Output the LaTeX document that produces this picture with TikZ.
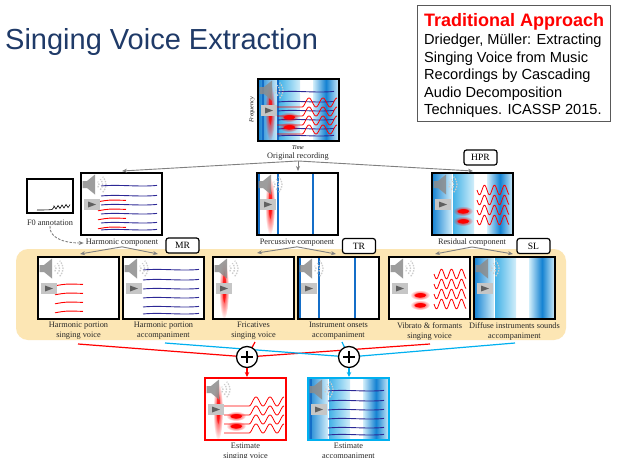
\documentclass[tikz,border=0pt]{standalone}
\usepackage{fontspec}
\setmainfont{Liberation Serif}
\newfontfamily\sansf{Liberation Sans}
\usetikzlibrary{arrows.meta,fadings}

\definecolor{titleblue}{RGB}{31,58,104}
\definecolor{bandDark}{RGB}{20,130,210}
\definecolor{bandMid}{RGB}{60,175,230}
\definecolor{bandLight}{RGB}{210,238,250}
\definecolor{navyline}{RGB}{45,40,150}
\definecolor{onsetblue}{RGB}{20,110,200}
\definecolor{accblue}{RGB}{0,176,240}
\definecolor{panelbg}{RGB}{252,230,180}
\definecolor{connector}{RGB}{128,128,128}
\definecolor{labeltext}{RGB}{40,40,40}
\definecolor{spkgray}{RGB}{140,140,140}

\tikzfading[name=blobfade, inner color=transparent!0, outer color=transparent!100]

\tikzset{
  panelframe/.style={draw=black, line width=1.3pt},
  lab/.style={font=\fontsize{8.3}{10}\selectfont, text=labeltext, align=center, inner sep=0pt},
  tagbox/.style={draw=black, line width=1.2pt, rounded corners=2.5pt, fill=white,
    minimum width=33pt, minimum height=15pt, inner sep=0pt, font=\fontsize{9.6}{11}\selectfont},
  conn/.style={draw=connector, line width=0.9pt, -{Stealth[length=5pt,width=4pt]}},
  sumnode/.style={circle, draw=black, line width=1.3pt, fill=white, minimum size=21pt, inner sep=0pt},
  voiceline/.style={draw=red, line width=1.2pt},
  accline/.style={draw=accblue, line width=1.2pt},
  reftext/.style={anchor=base west, inner sep=0pt, font=\sansf\fontsize{14.6}{17}\selectfont},
}

% ---- panel contents, local frame 81 x 62, y pointing down ----
\newcommand\pnlBands{%
  \shade[left color=bandDark, right color=bandLight] (0,0) rectangle (20,62);
  \shade[left color=bandMid, right color=bandLight] (20,0) rectangle (42,62);
  \draw[white, line width=0.6pt] (20,0) -- (20,62);
  \shade[left color=bandLight, right color=bandLight, middle color=bandDark] (55,0) rectangle (81,62);
}
\newcommand\pnlOnsets[1]{%
  \foreach \xo in {#1}{\draw[onsetblue, line width=1.6pt] (\xo,0) -- (\xo,62);}}
\newcommand\pnlNavy{%
  \foreach \yn in {13,23,32,41,50,57}{%
    \draw[navyline, line width=0.9pt] (20,\yn) .. controls (38,\yn-1.8) and (58,\yn+1.2) .. (76,\yn-0.6);}}
\newcommand\pnlRedShort{%
  \foreach \yr in {28,37,46,55}{%
    \draw[red, line width=0.9pt] (17,\yr+0.8) .. controls (28,\yr-1.2) .. (45,\yr-0.6);}}
\newcommand\pnlRedVib{%
  \foreach \yr in {28,37,46,55}{%
    \draw[red, line width=0.8pt] (19,\yr) -- (44,\yr)
      -- plot[domain=44:79, samples=50] (\x, {\yr - 4.5*(1-cos((\x-44)*360/14))});}}
\newcommand\pnlSines{%
  \foreach \ys in {17,27,37,47}{%
    \draw[red, line width=0.8pt] plot[domain=45:77, samples=60] (\x, {\ys + 4.8*sin((\x-45)*360/10)});}}
\newcommand\pnlBlobs{%
  \fill[red, path fading=blobfade] (31,38) ellipse [x radius=10pt, y radius=5pt];
  \fill[red, path fading=circle with fuzzy edge 20 percent] (31,38) ellipse [x radius=6.5pt, y radius=2.6pt];
  \fill[red, path fading=blobfade] (31,48) ellipse [x radius=10pt, y radius=5pt];
  \fill[red, path fading=circle with fuzzy edge 20 percent] (31,48) ellipse [x radius=6.5pt, y radius=2.6pt];}
\newcommand\pnlStreak[1]{%
  \fill[red, path fading=blobfade] (#1,33) ellipse [x radius=5pt, y radius=29pt];
  \fill[red, fill opacity=0.6, path fading=circle with fuzzy edge 20 percent] (#1,30) ellipse [x radius=2pt, y radius=17pt];}
\newcommand\pnlSpeaker{%
  \fill[spkgray, fill opacity=0.85] (1.5,8) -- (6,8) -- (14,1.5) -- (14,21.5) -- (6,15) -- (1.5,15) -- cycle;
  \foreach \r in {4,7.5,11}{%
    \draw[gray!40, line width=1.3pt, dash pattern=on 1.5pt off 1.2pt]
      (14,11.5) ++(45:\r) arc[start angle=-45, end angle=45, radius=\r pt];}
  \fill[gray!45] (3,26) rectangle (19,37);
  \fill[gray!75!black] (7,28.5) -- (7,34.5) -- (15,31.5) -- cycle;}
\newcommand\mkpanel[3]{%
  \begin{scope}[shift={#1}]
    \fill[white] (0,0) rectangle (81,62);
    \begin{scope}
      \clip (0,0) rectangle (81,62);
      #2
    \end{scope}
    \pnlSpeaker
    \draw[#3] (0,0) rectangle (81,62);
  \end{scope}}

\begin{document}
\begin{tikzpicture}[x=1pt, y=-1pt]
\useasboundingbox (0,0) rectangle (622,458);
\fill[white] (0,0) rectangle (622,458);

% ---- title and reference box ----
\node[anchor=base west, inner sep=0pt, font=\sansf\fontsize{29}{34}\selectfont, text=titleblue]
  (title) at (5,49) {Singing Voice Extraction};
\node[draw=gray!70!black, line width=0.8pt, minimum width=193pt, minimum height=116pt,
  anchor=north west, inner sep=0pt] (refbox) at (417,5) {};
\node[anchor=base west, inner sep=0pt, font=\sansf\bfseries\fontsize{18}{20}\selectfont, text=red]
  (ref0) at (424,26) {Traditional Approach};
\node[reftext] (ref1) at (424,44) {Driedger, Müller: Extracting};
\node[reftext] (ref2) at (424,62) {Singing Voice from Music};
\node[reftext] (ref3) at (424,79.5) {Recordings by Cascading};
\node[reftext] (ref4) at (424,97) {Audio Decomposition};
\node[reftext] (ref5) at (424,114.5) {Techniques. ICASSP 2015.};

% ---- shaded band behind the second decomposition stage ----
\fill[panelbg, rounded corners=12pt] (16,249) rectangle (566,340);

% ---- original recording ----
\mkpanel{(258,79)}{\pnlBands \pnlOnsets{5,20} \pnlStreak{12} \pnlNavy \pnlRedVib \pnlBlobs}{panelframe}
\node[rotate=90, inner sep=0pt, font=\itshape\fontsize{6}{7}\selectfont] (freqlab) at (252,110) {Frequency};
\node[inner sep=0pt, font=\itshape\fontsize{6}{7}\selectfont] (timelab) at (298,148) {Time};
\node[lab] (origlab) at (298,157) {Original recording};

% ---- first stage: harmonic / percussive / residual ----
\begin{scope}[shift={(27,179)}]
  \draw[panelframe, fill=white] (0,0) rectangle (46,34);
  \draw[black, line width=0.6pt] plot[smooth] coordinates {(10,31) (25,30.5) (27,27) (29,30) (31,26.5)
    (33,29.5) (35,26) (37,29) (39,25.5) (41,28.5) (43,25.5)};
\end{scope}
\node[lab] (f0lab) at (50,223) {F0 annotation};

\mkpanel{(81,173)}{\pnlNavy \pnlRedShort}{panelframe}
\node[lab] (harmlab) at (122,243) {Harmonic component};

\mkpanel{(257,173)}{\pnlOnsets{2,21,56} \pnlStreak{13}}{panelframe}
\node[lab] (perclab) at (297,243) {Percussive component};

\mkpanel{(432,173)}{\pnlBands \pnlBlobs \pnlSines}{panelframe}
\node[lab] (reslab) at (472,243) {Residual component};

% ---- second stage ----
\mkpanel{(38,257)}{\pnlRedShort}{panelframe}
\node[lab] (hsvlab) at (78.5,331) {Harmonic portion\\singing voice};
\mkpanel{(123,257)}{\pnlNavy}{panelframe}
\node[lab] (halab) at (163.5,331) {Harmonic portion\\accompaniment};
\mkpanel{(213,257)}{\pnlStreak{11}}{panelframe}
\node[lab] (frlab) at (253.5,331) {Fricatives\\singing voice};
\mkpanel{(298,257)}{\pnlOnsets{2,21,57}}{panelframe}
\node[lab] (onlab) at (338.5,331) {Instrument onsets\\accompaniment};
\mkpanel{(389,257)}{\pnlBlobs \pnlSines}{panelframe}
\node[lab] (vilab) at (429.5,331) {Vibrato \& formants\\singing voice};
\mkpanel{(474,257)}{\pnlBands}{panelframe}
\node[lab] (dilab) at (514.5,331) {Diffuse instruments sounds\\accompaniment};

% ---- connectors of the decomposition ----
\coordinate (harmIn) at (122,171);
\coordinate (percIn) at (298,171);
\coordinate (resIn) at (473,171);
\draw[conn] (origlab.south) -- (harmIn);
\draw[conn] (origlab.south) -- (percIn);
\draw[conn] (origlab.south) -- (resIn);

\coordinate (hsvIn) at (80,254);
\coordinate (haIn) at (158,254);
\coordinate (frIn) at (257,253);
\coordinate (onIn) at (336,254);
\coordinate (viIn) at (435,254);
\coordinate (diIn) at (513,254);
\draw[conn] (harmlab.south) -- (hsvIn);
\draw[conn] (harmlab.south) -- (haIn);
\draw[conn] (perclab.south) -- (frIn);
\draw[conn] (perclab.south) -- (onIn);
\draw[conn] (reslab.south) -- (viIn);
\draw[conn] (reslab.south) -- (diIn);

\draw[conn, dashed, dash pattern=on 2.5pt off 1.5pt] (f0lab.south) .. controls (49,236) and (60,243) .. ([xshift=-2pt]harmlab.west);

% ---- method tags ----
\node[tagbox] (hpr) at (480.5,157.5) {HPR};
\node[tagbox] (mr) at (182.5,245.5) {MR};
\node[tagbox] (tr) at (359,246) {TR};
\node[tagbox] (sl) at (533.5,246) {SL};

% ---- summation of the components ----
\coordinate (vsumc) at (247,357);
\coordinate (asumc) at (349,357);
\coordinate (vsrc1) at (78,344);
\coordinate (vsrc2) at (255,342);
\coordinate (vsrc3) at (430,344);
\coordinate (asrc1) at (165,343);
\coordinate (asrc2) at (342,342);
\coordinate (asrc3) at (515,343);
\draw[voiceline] (vsrc1) -- (vsumc);
\draw[voiceline] (vsrc2) -- (vsumc);
\draw[voiceline] (vsrc3) -- (vsumc);
\draw[accline] (asrc1) -- (asumc);
\draw[accline] (asrc2) -- (asumc);
\draw[accline] (asrc3) -- (asumc);
\node[sumnode] (vsum) at (vsumc) {};
\node[sumnode] (asum) at (asumc) {};
\draw[line width=1.7pt] (vsum.center) +(-6,0) -- +(6,0) (vsum.center) +(0,-6) -- +(0,6);
\draw[line width=1.7pt] (asum.center) +(-6,0) -- +(6,0) (asum.center) +(0,-6) -- +(0,6);

\coordinate (estvIn) at (247,377);
\coordinate (estaIn) at (349,377);
\draw[voiceline, -{Stealth[length=5pt,width=4.5pt]}] (vsum.south) -- (estvIn);
\draw[accline, -{Stealth[length=5pt,width=4.5pt]}] (asum.south) -- (estaIn);

% ---- estimates ----
\mkpanel{(205,378)}{\pnlStreak{13} \pnlRedVib \pnlBlobs}{draw=red, line width=1.8pt}
\node[lab] (estvlab) at (245.5,452) {Estimate\\singing voice};
\mkpanel{(308,378)}{\pnlBands \pnlOnsets{3} \pnlNavy}{draw=accblue, line width=1.8pt}
\node[lab] (estalab) at (348.5,452) {Estimate\\accompaniment};
\end{tikzpicture}
\end{document}
